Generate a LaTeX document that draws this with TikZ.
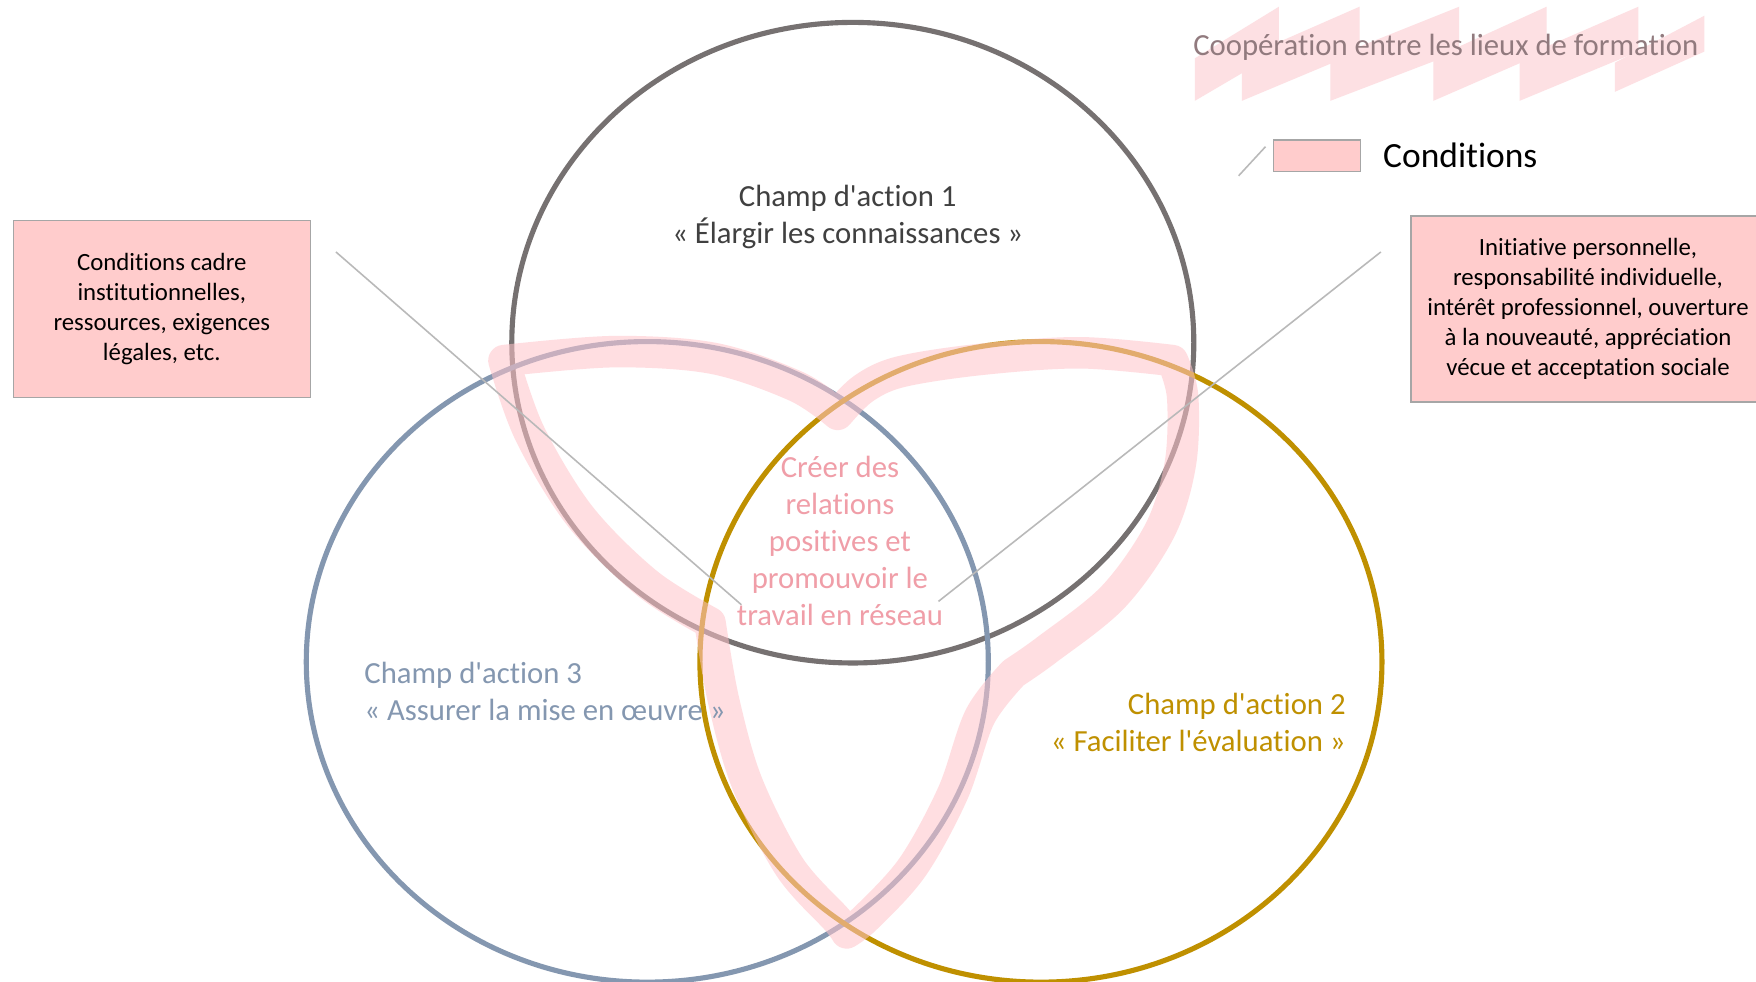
\documentclass[tikz,border=0pt]{standalone}
\usepackage{fontspec}
\setmainfont{Carlito}[Ligatures={TeXOff,NoCommon}]
\usetikzlibrary{positioning}

\definecolor{champA}{RGB}{118,113,113}
\definecolor{champB}{RGB}{191,144,0}
\definecolor{champC}{RGB}{132,151,176}
\definecolor{rosefond}{RGB}{255,204,204}
\definecolor{roseruban}{RGB}{255,196,202}
\definecolor{rosepale}{RGB}{253,224,227}
\definecolor{rosetexte}{RGB}{240,158,168}
\definecolor{titre}{RGB}{145,122,126}

\begin{document}
\begin{tikzpicture}[x=0.01cm, y=-0.01cm,
		champ/.style={line width=1.3pt},
		cadre/.style={draw=gray!70, line width=.4pt, fill=rosefond, align=center, font=\fontsize{6.3}{7.6}\selectfont},
		ruban/.style={draw=roseruban, line width=8pt, line join=round, opacity=.55},
		fil/.style={draw=gray!55, line width=.4pt},
		txt/.style={font=\fontsize{7.8}{9.4}\selectfont, align=center}]
	\useasboundingbox (0,0) rectangle (1568,876);
	\fill[white] (0,0) rectangle (1568,876);

	\foreach \g/\d/\h in {1067/1142/0, 1109/1214/0, 1188/1303/0, 1280/1381/0, 1357/1463/0, 1442/1522/8}
		\fill[rosepale] (\g,90-\h) -- (\g,52+\h/2) -- (\d,6+\h) -- (\d,46) -- cycle;
	\node[txt, text=titre] (titre) at (1291,42) {Coopération entre les lieux de formation};

	\node[draw=gray!70, line width=.4pt, fill=rosefond, minimum width=.78cm, minimum height=.28cm, inner sep=0pt] (legende) at (1176,139) {};
	\node[font=\fontsize{9}{11}\selectfont, right=.07cm of legende] (conditions) {Conditions};
	\coordinate (l1) at (1106,157);
	\coordinate (l2) at (1130,131);
	\draw[fil] (l1) -- (l2);

	\coordinate (c1) at (761.5,306);
	\coordinate (c2) at (929.5,591);
	\coordinate (c3) at (578,591);
	\draw[champ, champA] (c1) ellipse [x radius=304.5, y radius=286];
	\draw[champ, champC] (c3) ellipse [x radius=304.5, y radius=286];
	\draw[champ, champB] (c2) ellipse [x radius=304.5, y radius=286];

	\draw[ruban] plot[smooth, tension=.55] coordinates {(634,556) (578,521) (518,461) (473,387) (450,322)}
		-- plot[smooth, tension=.55] coordinates {(450,322) (548,314) (637,320) (711,345) (748,370)}
		-- plot[smooth, tension=.55] coordinates {(748,370) (771,347) (804,332) (875,321) (964,315) (1047,322)}
		-- plot[smooth, tension=.55] coordinates {(1047,322) (1056,354) (1054,414) (1036,473) (994,533) (935,580) (905,601)}
		-- plot[smooth, tension=.55] coordinates {(905,601) (875,640) (851,708) (815,774) (774,819) (756,833)}
		-- plot[smooth, tension=.55] coordinates {(756,833) (747,821) (705,774) (667,699) (646,625) (634,556)}
		-- cycle;

	\node[cadre, minimum width=2.65cm, minimum height=1.58cm] (cadreinst) at (144.5,276) {Conditions cadre\\institutionnelles,\\ressources, exigences\\légales, etc.};
	\node[cadre, minimum width=3.16cm, minimum height=1.66cm] (cadreperso) at (1418,276) {Initiative personnelle,\\responsabilité individuelle,\\intérêt professionnel, ouverture\\à la nouveauté, appréciation\\vécue et acceptation sociale};

	\coordinate (finG) at (300,225);
	\coordinate (pointG) at (662,540);
	\coordinate (finD) at (1233,225);
	\coordinate (pointD) at (838,537);
	\draw[fil] (finG) -- (pointG);
	\draw[fil] (finD) -- (pointD);

	\node[txt, text=black!75] (champ1) at (757,194) {Champ d'action 1\\« Élargir les connaissances »};
	\node[txt, text=champC, align=left, anchor=west] (champ3) at (313,617) {Champ d'action 3\\« Assurer la mise en œuvre »};
	\node[txt, text=champB, align=right, anchor=east] (champ2) at (1214,645) {Champ d'action 2\\« Faciliter l'évaluation »};
	\node[txt, text=rosetexte] (centre) at (750,483) {Créer des\\relations\\positives et\\promouvoir le\\travail en réseau};
\end{tikzpicture}
\end{document}
